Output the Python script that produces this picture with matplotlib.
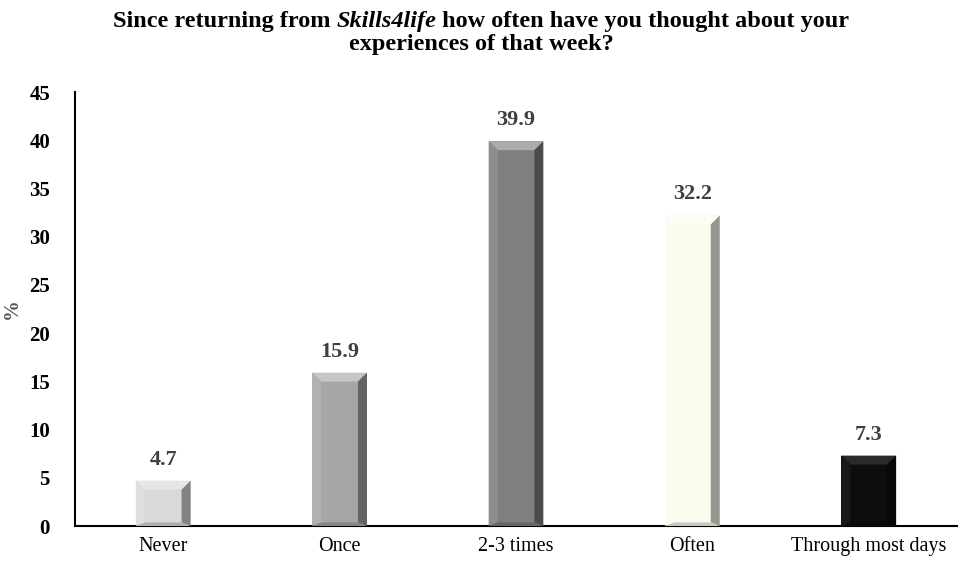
import matplotlib
matplotlib.use("Agg")
import matplotlib.pyplot as plt
from matplotlib.patches import Polygon
import matplotlib.colors as mcolors

categories = ["Never", "Once", "2-3 times", "Often", "Through most days"]
values = [4.7, 15.9, 39.9, 32.2, 7.3]
colors = ["#d9d9d9", "#a6a6a6", "#7f7f7f", "#fbfbee", "#0d0d0d"]
yticks = [0, 5, 10, 15, 20, 25, 30, 35, 40, 45]

plt.rcParams['font.family'] = ['Liberation Serif', 'DejaVu Serif']

fig = plt.figure(figsize=(9.62, 5.66), dpi=100)
ax = fig.add_axes([75/962, 1-526/566, (957-75)/962, (526-92)/566])
x = list(range(len(categories)))
bw = 0.31
ax.set_xlim(-0.5, len(categories)-0.5)
ax.set_ylim(0, 45)
bars = ax.bar(x, values, width=bw, color=colors, edgecolor="none", zorder=2)

fig.canvas.draw()
renderer = fig.canvas.get_renderer()
inv = ax.transData.inverted()
p0 = inv.transform((0, 0)); p1 = inv.transform((9, 9))
dx = p1[0]-p0[0]; dy = p1[1]-p0[1]
lab_off = inv.transform((0, 16))[1] - p0[1]

def shade(c, f):
    r, g, b = mcolors.to_rgb(c)
    if f > 0:
        return (r+(1-r)*f, g+(1-g)*f, b+(1-b)*f)
    return (r*(1+f), g*(1+f), b*(1+f))

for b, c in zip(bars, colors):
    x0 = b.get_x(); x1 = x0 + b.get_width(); h = b.get_height()
    ix = dx; iy = min(dy, h/2.5)
    top = [(x0, h), (x1, h), (x1-ix, h-iy), (x0+ix, h-iy)]
    left = [(x0, 0), (x0, h), (x0+ix, h-iy), (x0+ix, iy*0.4)]
    right = [(x1, 0), (x1, h), (x1-ix, h-iy), (x1-ix, iy*0.4)]
    bot = [(x0, 0), (x1, 0), (x1-ix, iy*0.4), (x0+ix, iy*0.4)]
    dark = c == "#0d0d0d"
    ax.add_patch(Polygon(top, closed=True, color=shade(c, 0.35 if not dark else 0.12), lw=0, zorder=3))
    ax.add_patch(Polygon(left, closed=True, color=shade(c, 0.12 if not dark else 0.05), lw=0, zorder=3))
    ax.add_patch(Polygon(right, closed=True, color=shade(c, -0.4), lw=0, zorder=3))
    ax.add_patch(Polygon(bot, closed=True, color=shade(c, -0.2), lw=0, zorder=3))
    ax.text(b.get_x()+b.get_width()/2, h + lab_off, f"{h:.1f}", ha="center", va="baseline",
            fontsize=16, fontweight="bold", color="#404040")

ax.set_xticks(x)
ax.set_xticklabels(categories, fontsize=14.5)
ax.set_yticks(yticks)
ax.set_yticklabels([str(t) for t in yticks], fontsize=15, fontweight="bold")
ax.tick_params(axis="both", length=0)
ax.tick_params(axis="x", pad=8)
ax.tick_params(axis="y", pad=18)
ax.spines["top"].set_visible(False)
ax.spines["right"].set_visible(False)
ax.spines["left"].set_linewidth(1.5)
ax.spines["bottom"].set_linewidth(1.5)
ax.set_ylabel("%", fontsize=15, fontweight="bold", color="#595959", labelpad=5)

# Title: line 1 with an italic part, assembled from pieces
tsize = 17.5
pieces = [("Since returning from ", "normal"), ("Skills4life", "italic"),
          (" how often have you thought about your", "normal")]
W = fig.bbox.width
H = fig.bbox.height
texts = []
for s, st in pieces:
    t = fig.text(0, 1-27/H, s, ha="left", va="baseline", fontsize=tsize,
                 fontweight="bold", fontstyle=st)
    texts.append(t)
widths = [t.get_window_extent(renderer).width for t in texts]
xpos = (W - sum(widths)) / 2
for t, w in zip(texts, widths):
    t.set_x(xpos / W)
    xpos += w
fig.text(0.5, 1-50/H, "experiences of that week?", ha="center", va="baseline",
         fontsize=tsize, fontweight="bold")

fig.savefig("out.png", dpi=100)
